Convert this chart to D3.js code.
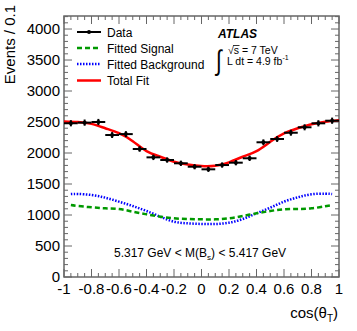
<!DOCTYPE html>
<html>
<head>
<meta charset="utf-8">
<script src="https://cdn.jsdelivr.net/npm/d3@7"></script>
<style>
  body { margin: 0; background: #fff; }
  text { font-family: "Liberation Sans", Arial, sans-serif; }
</style>
</head>
<body>
<div id="chart"></div>
<script>
// bin centres of cos(theta_T) histogram
var binCenters = [-0.95, -0.85, -0.75, -0.65, -0.55, -0.45, -0.35, -0.25, -0.15, -0.05,
                  0.05, 0.15, 0.25, 0.35, 0.45, 0.55, 0.65, 0.75, 0.85, 0.95];
var dataValues = [2480, 2490, 2500, 2290, 2305, 2065, 1930, 1887, 1834, 1779,
                  1737, 1806, 1844, 1915, 2173, 2226, 2327, 2415, 2479, 2521];
var dataErrors = [50, 50, 50, 48, 48, 45, 44, 43, 43, 42,
                  42, 43, 43, 44, 47, 47, 48, 49, 50, 50];

// fit curves
var fitX = [-1, -0.9, -0.8, -0.7, -0.6, -0.5, -0.4, -0.3, -0.2, -0.1, 0,
            0.1, 0.2, 0.3, 0.4, 0.5, 0.6, 0.7, 0.8, 0.9, 1];
var totalFit = [2510, 2500, 2470, 2400, 2320, 2190, 2030, 1940, 1860, 1815, 1790,
                1795, 1850, 1940, 2030, 2180, 2315, 2400, 2465, 2505, 2530];

var compX = [-0.95, -0.9, -0.8, -0.7, -0.6, -0.5, -0.4, -0.3, -0.2, -0.1, 0,
             0.1, 0.2, 0.3, 0.4, 0.5, 0.6, 0.7, 0.8, 0.9, 0.95];
var signalFit = [1160, 1145, 1124, 1108, 1097, 1053, 1011, 973, 947, 935, 930,
                 930, 947, 984, 1027, 1065, 1092, 1097, 1108, 1140, 1160];
var backgroundFit = [1338, 1340, 1323, 1279, 1215, 1145, 1065, 973, 892, 866, 855,
                     855, 876, 935, 1027, 1118, 1215, 1285, 1334, 1344, 1338];

var xTicks = [-1, -0.8, -0.6, -0.4, -0.2, 0, 0.2, 0.4, 0.6, 0.8, 1];
var yTicks = [0, 500, 1000, 1500, 2000, 2500, 3000, 3500, 4000];

var width = 357, height = 331;
var plotLeft = 64, plotRight = 339, plotTop = 16, plotBottom = 277;

var svg = d3.select("#chart").append("svg")
    .attr("width", width).attr("height", height);

var x = d3.scaleLinear().domain([-1, 1]).range([plotLeft, plotRight]);
var y = d3.scaleLinear().domain([0, 4210]).range([plotBottom, plotTop]);

var axisColor = "#666";

// minor + major ticks, drawn inwards on all four sides
var xMinor = d3.range(0, 41).map(function(i) { return -1 + i * 0.05; });
var yMinor = d3.range(0, 43).map(function(i) { return i * 100; });
var ticks = svg.append("g").attr("stroke", axisColor).attr("stroke-width", 1);
xMinor.forEach(function(v, i) {
  var len = (i % 4 === 0) ? 8 : 4;
  ticks.append("line").attr("x1", x(v)).attr("x2", x(v)).attr("y1", plotBottom).attr("y2", plotBottom - len);
  ticks.append("line").attr("x1", x(v)).attr("x2", x(v)).attr("y1", plotTop).attr("y2", plotTop + len);
});
yMinor.forEach(function(v, i) {
  var len = (i % 5 === 0) ? 8 : 4;
  ticks.append("line").attr("x1", plotLeft).attr("x2", plotLeft + len).attr("y1", y(v)).attr("y2", y(v));
  ticks.append("line").attr("x1", plotRight).attr("x2", plotRight - len).attr("y1", y(v)).attr("y2", y(v));
});

svg.append("rect")
    .attr("x", plotLeft).attr("y", plotTop)
    .attr("width", plotRight - plotLeft).attr("height", plotBottom - plotTop)
    .attr("fill", "none").attr("stroke", axisColor).attr("stroke-width", 1.5);

// tick labels
svg.append("g").selectAll("text").data(xTicks).enter().append("text")
    .attr("x", function(d) { return x(d); })
    .attr("y", 294)
    .attr("text-anchor", "middle")
    .attr("font-size", 15)
    .text(function(d) { return String(d); });

svg.append("g").selectAll("text").data(yTicks).enter().append("text")
    .attr("x", 60)
    .attr("y", function(d) { return y(d) + 5; })
    .attr("text-anchor", "end")
    .attr("font-size", 15)
    .text(function(d) { return d; });

// axis titles
svg.append("text")
    .attr("transform", "translate(15,5) rotate(-90)")
    .attr("text-anchor", "end")
    .attr("font-size", 15)
    .text("Events / 0.1");

var xt = svg.append("text")
    .attr("x", 338).attr("y", 318)
    .attr("text-anchor", "end")
    .attr("font-size", 15);
xt.append("tspan").text("cos(\u03B8");
xt.append("tspan").attr("font-size", 10).attr("dy", 4).text("T");
xt.append("tspan").attr("dy", -4).text(")");

// fit curves
var line = d3.line().curve(d3.curveNatural);

svg.append("path")
    .attr("d", line(compX.map(function(v, i) { return [x(v), y(backgroundFit[i])]; })))
    .attr("fill", "none").attr("stroke", "#0000ff").attr("stroke-width", 2.5)
    .attr("stroke-dasharray", "1.5,1.5");

svg.append("path")
    .attr("d", line(compX.map(function(v, i) { return [x(v), y(signalFit[i])]; })))
    .attr("fill", "none").attr("stroke", "#009900").attr("stroke-width", 2.5)
    .attr("stroke-dasharray", "5,3");

svg.append("path")
    .attr("d", line(fitX.map(function(v, i) { return [x(v), y(totalFit[i])]; })))
    .attr("fill", "none").attr("stroke", "#ff0000").attr("stroke-width", 2.5);

// data points
var pts = svg.append("g").attr("stroke", "#000").attr("stroke-width", 2);
binCenters.forEach(function(c, i) {
  pts.append("line")
      .attr("x1", x(c - 0.05)).attr("x2", x(c + 0.05))
      .attr("y1", y(dataValues[i])).attr("y2", y(dataValues[i]));
  pts.append("line")
      .attr("x1", x(c)).attr("x2", x(c))
      .attr("y1", y(dataValues[i] - dataErrors[i])).attr("y2", y(dataValues[i] + dataErrors[i]));
  pts.append("circle")
      .attr("cx", x(c)).attr("cy", y(dataValues[i])).attr("r", 2)
      .attr("fill", "#000").attr("stroke", "none");
});

// legend
var legendItems = [
  { name: "Data", color: "#000", dash: null, y: 32, marker: true },
  { name: "Fitted Signal", color: "#009900", dash: "5,3", y: 48 },
  { name: "Fitted Background", color: "#0000ff", dash: "1.5,1.5", y: 64 },
  { name: "Total Fit", color: "#ff0000", dash: null, y: 80.5 }
];
var lg = svg.append("g");
legendItems.forEach(function(d) {
  lg.append("line")
      .attr("x1", 77).attr("x2", 101).attr("y1", d.y).attr("y2", d.y)
      .attr("stroke", d.color).attr("stroke-width", d.marker ? 2 : 2.5)
      .attr("stroke-dasharray", d.dash);
  if (d.marker) {
    lg.append("circle").attr("cx", 89).attr("cy", d.y).attr("r", 2).attr("fill", "#000");
  }
  lg.append("text")
      .attr("x", 107).attr("y", d.y + 4.5)
      .attr("font-size", 12)
      .text(d.name);
});

// ATLAS label
svg.append("text")
    .attr("x", 218).attr("y", 38)
    .attr("font-size", 12).attr("font-weight", "bold").attr("font-style", "italic")
    .text("ATLAS");

// integral sign, stretched vertically
svg.append("text")
    .attr("transform", "translate(216,70) scale(1,1.35)")
    .attr("font-size", 21)
    .text("\u222B");

var t1 = svg.append("text").attr("x", 228).attr("y", 54).attr("font-size", 10.5);
t1.append("tspan").text("\u221A");
t1.append("tspan").text("s = 7 TeV");
// overline of the square root
svg.append("line")
    .attr("x1", 233).attr("x2", 239.5).attr("y1", 45.5).attr("y2", 45.5)
    .attr("stroke", "#000").attr("stroke-width", 0.8);

var t2 = svg.append("text").attr("x", 227).attr("y", 65).attr("font-size", 10.5);
t2.append("tspan").text("L dt = 4.9 fb");
t2.append("tspan").attr("font-size", 7).attr("dy", -5).text("-1");

// mass window
var mw = svg.append("text").attr("x", 114).attr("y", 257).attr("font-size", 12);
mw.append("tspan").text("5.317 GeV < M(B");
mw.append("tspan").attr("font-size", 8).attr("dy", 3).text("s");
mw.append("tspan").attr("dy", -3).text(") < 5.417 GeV");
</script>
</body>
</html>
